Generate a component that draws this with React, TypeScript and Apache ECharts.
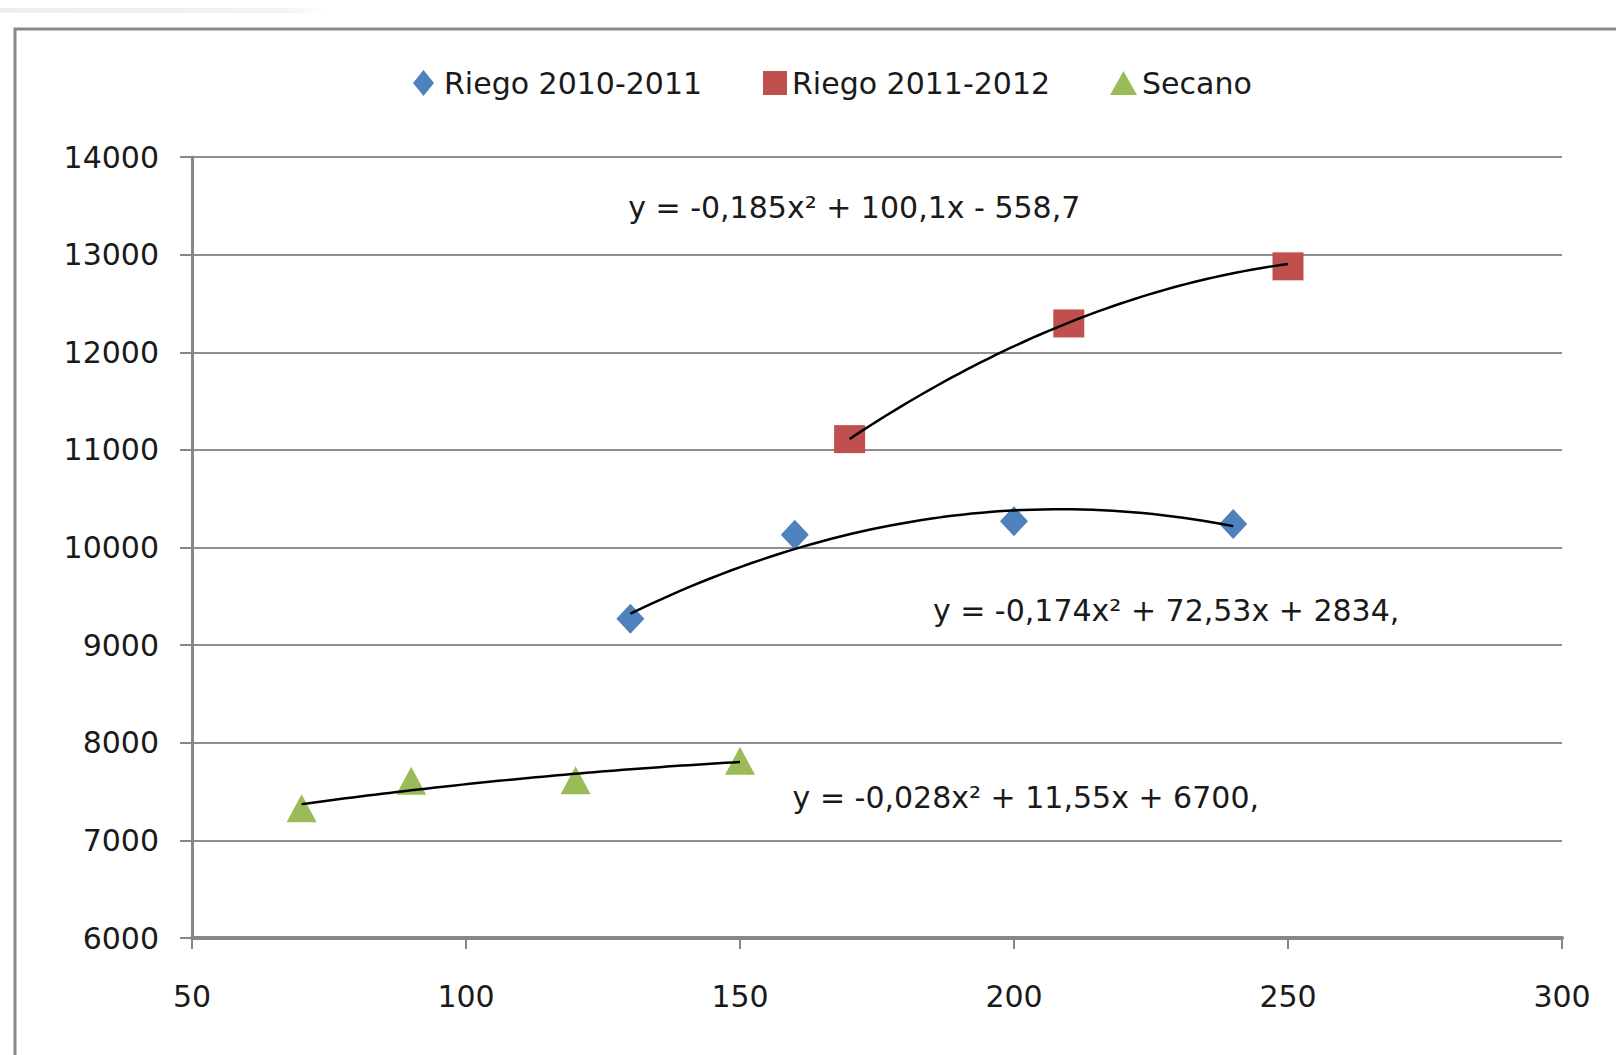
import React, { useEffect, useRef } from "react";
import * as echarts from "echarts";

// ---- data ----
const seriesNames = ["Riego 2010-2011", "Riego 2011-2012", "Secano"];
const riego1011X = [130, 160, 200, 240];
const riego1011Y = [9270, 10130, 10270, 10240];
const riego1112X = [170, 210, 250];
const riego1112Y = [11110, 12295, 12880];
const secanoX = [70, 90, 120, 150];
const secanoY = [7330, 7610, 7615, 7815];
// polynomial trendlines shown on the chart: y = a x^2 + b x + c
const trend1011 = [-0.174, 72.53, 2834];
const trend1112 = [-0.185, 100.1, -558.7];
const trendSecano = [-0.028, 11.55, 6700];
const equationTexts = [
  "y = -0,185x² + 100,1x - 558,7",
  "y = -0,174x² + 72,53x + 2834,",
  "y = -0,028x² + 11,55x + 6700,",
];
const xTicks = { min: 50, max: 300, interval: 50 };
const yTicks = { min: 6000, max: 14000, interval: 1000 };

const FONT = "'DejaVu Sans', 'Open Sans', sans-serif";
const FS = 30;
const TEXT = "#1a1a1a";
const GRAY = "#878787";
const BLUE = "#4F81BD";
const RED = "#C0504D";
const GREEN = "#9BBB59";

function pairs(xs: number[], ys: number[]) {
  return xs.map((x, i) => [x, ys[i]]);
}

function trendCurve(coef: number[], xs: number[]) {
  const lo = Math.min(...xs);
  const hi = Math.max(...xs);
  const pts: number[][] = [];
  const n = 60;
  for (let i = 0; i <= n; i++) {
    const x = lo + ((hi - lo) * i) / n;
    pts.push([x, coef[0] * x * x + coef[1] * x + coef[2]]);
  }
  return pts;
}

export default function App() {
  const ref = useRef<HTMLDivElement>(null);
  useEffect(() => {
    if (!ref.current) return;
    const chart = echarts.init(ref.current, undefined, { renderer: "svg" });
    const legendBase = {
      top: 63,
      orient: "horizontal" as const,
      itemGap: 0,
      textStyle: { fontFamily: FONT, fontSize: FS, color: TEXT },
    };
    chart.setOption({
      animation: false,
      backgroundColor: "#ffffff",
      grid: { left: 192, top: 157, width: 1370, height: 781, containLabel: false },
      legend: [
        {
          ...legendBase,
          left: 408,
          itemWidth: 21,
          itemHeight: 26,
          textStyle: { ...legendBase.textStyle, padding: [0, 0, 0, 5] },
          data: [{ name: seriesNames[0], icon: "diamond" }],
        },
        {
          ...legendBase,
          left: 758,
          itemWidth: 24,
          itemHeight: 24,
          data: [{ name: seriesNames[1], icon: "rect" }],
        },
        {
          ...legendBase,
          left: 1105,
          itemWidth: 27,
          itemHeight: 24,
          data: [{ name: seriesNames[2], icon: "triangle" }],
        },
      ],
      xAxis: {
        type: "value",
        min: xTicks.min,
        max: xTicks.max,
        interval: xTicks.interval,
        axisLine: { show: true, onZero: false, lineStyle: { color: GRAY, width: 4 } },
        axisTick: { show: true, length: 11, lineStyle: { color: GRAY, width: 2 } },
        axisLabel: { fontFamily: FONT, fontSize: FS, color: TEXT, margin: 43, formatter: (v: number) => String(v) },
        splitLine: { show: false },
      },
      yAxis: {
        type: "value",
        min: yTicks.min,
        max: yTicks.max,
        interval: yTicks.interval,
        axisLine: { show: true, lineStyle: { color: GRAY, width: 3 } },
        axisTick: { show: true, length: 12, lineStyle: { color: GRAY, width: 2 } },
        axisLabel: { fontFamily: FONT, fontSize: FS, color: TEXT, margin: 33, formatter: (v: number) => String(v) },
        splitLine: { show: true, lineStyle: { color: "#8e8e8e", width: 2 } },
      },
      series: [
        {
          name: seriesNames[0],
          type: "scatter",
          symbol: "diamond",
          symbolSize: [28, 30],
          itemStyle: { color: BLUE, opacity: 1 },
          data: pairs(riego1011X, riego1011Y),
          z: 2,
        },
        {
          name: seriesNames[1],
          type: "scatter",
          symbol: "rect",
          symbolSize: [31, 28],
          itemStyle: { color: RED, opacity: 1 },
          data: pairs(riego1112X, riego1112Y),
          z: 2,
        },
        {
          name: seriesNames[2],
          type: "scatter",
          symbol: "triangle",
          symbolSize: [30, 28],
          itemStyle: { color: GREEN, opacity: 1 },
          data: pairs(secanoX, secanoY),
          z: 2,
        },
        {
          name: "trend1011",
          type: "line",
          showSymbol: false,
          silent: true,
          lineStyle: { color: "#000", width: 2.5 },
          data: trendCurve(trend1011, riego1011X),
          z: 3,
        },
        {
          name: "trend1112",
          type: "line",
          showSymbol: false,
          silent: true,
          lineStyle: { color: "#000", width: 2.5 },
          data: trendCurve(trend1112, riego1112X),
          z: 3,
        },
        {
          name: "trendSecano",
          type: "line",
          showSymbol: false,
          silent: true,
          lineStyle: { color: "#000", width: 2.5 },
          data: trendCurve(trendSecano, secanoX),
          z: 3,
        },
      ],
    });

    // equation labels anchored in data coordinates (left edge, vertical middle)
    const eqAnchors = [
      [129.6, 13480],
      [185.2, 9350],
      [159.6, 7440],
    ];
    const eqGraphics = equationTexts.map((t, i) => {
      const p = chart.convertToPixel({ gridIndex: 0 }, eqAnchors[i]) as number[];
      return {
        type: "text",
        x: p[0],
        y: p[1],
        style: {
          text: t,
          fontFamily: FONT,
          fontSize: FS,
          fill: TEXT,
          align: "left",
          verticalAlign: "middle",
        },
        z: 10,
      };
    });

    chart.setOption({
      graphic: [
        {
          type: "rect",
          shape: { x: 0, y: 8, width: 330, height: 5 },
          style: {
            fill: new echarts.graphic.LinearGradient(0, 0, 1, 0, [
              { offset: 0, color: "rgba(0,0,0,0.07)" },
              { offset: 0.85, color: "rgba(0,0,0,0.05)" },
              { offset: 1, color: "rgba(0,0,0,0)" },
            ]),
          },
          silent: true,
        },
        {
          type: "rect",
          shape: { x: 15, y: 29, width: 1700, height: 1100 },
          style: { fill: "none", stroke: "#8a8a8a", lineWidth: 3 },
          silent: true,
        },
        ...eqGraphics,
      ],
    });

    return () => chart.dispose();
  }, []);
  return (
    <div
      ref={ref}
      style={{ position: "absolute", left: 0, top: 0, width: 1616, height: 1055, background: "#fff" }}
    />
  );
}
